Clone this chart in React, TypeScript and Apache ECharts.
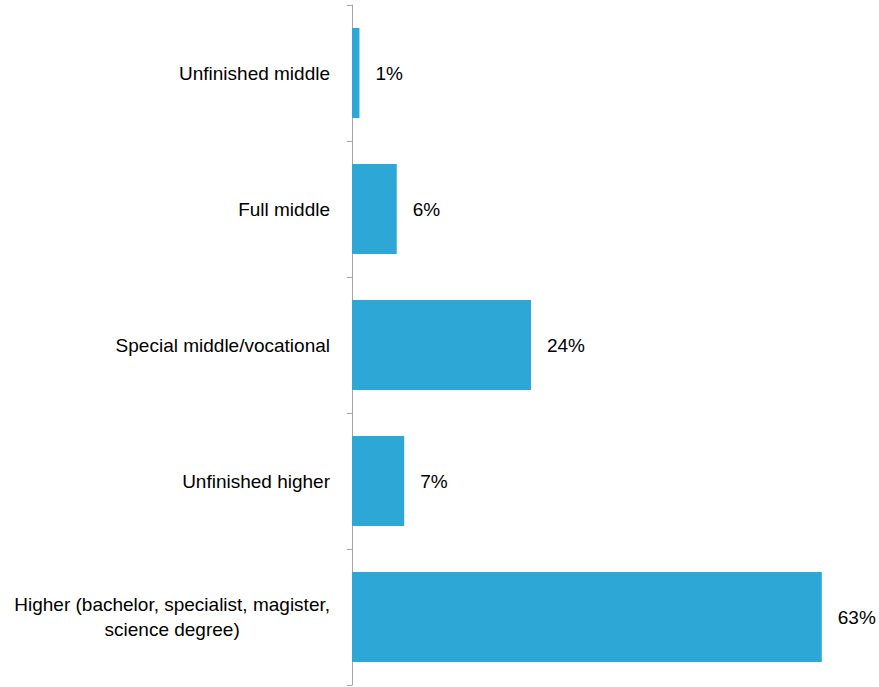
import React, { useEffect, useRef } from "react";
import * as echarts from "echarts";

const categories = [
  "Unfinished middle",
  "Full middle",
  "Special middle/vocational",
  "Unfinished higher",
  "Higher (bachelor, specialist, magister,\nscience degree)",
];
const values = [1, 6, 24, 7, 63];

const FONT = "'Liberation Sans', Arial, sans-serif";

export default function App() {
  const ref = useRef<HTMLDivElement>(null);
  useEffect(() => {
    if (!ref.current) return;
    const chart = echarts.init(ref.current, null, { renderer: "svg" });
    chart.setOption({
      animation: false,
      grid: {
        left: 352,
        right: 5,
        top: 5,
        bottom: 2,
        containLabel: false,
        outerBoundsMode: "none",
      },
      xAxis: {
        type: "value",
        min: 0,
        max: 70,
        show: false,
      },
      yAxis: {
        type: "category",
        inverse: true,
        data: categories,
        axisLine: { show: true, lineStyle: { color: "#a6a6a6", width: 1 } },
        axisTick: { show: true, length: 5, lineStyle: { color: "#a6a6a6" } },
        axisLabel: {
          margin: 22,
          color: "#000",
          fontFamily: FONT,
          fontSize: 19,
          lineHeight: 25,
          formatter: (v: string) =>
            v
              .split("\n")
              .map((s) => "{a|" + s + "}")
              .join("\n"),
          rich: {
            a: {
              align: "center",
              fontFamily: FONT,
              fontSize: 19,
              lineHeight: 25,
              color: "#000",
            },
          },
        },
        splitLine: { show: false },
      },
      series: [
        {
          type: "bar",
          data: values,
          barWidth: 90,
          itemStyle: { color: "#2ca7d6" },
          label: {
            show: true,
            position: "right",
            distance: 16,
            formatter: "{c}%",
            color: "#000",
            fontFamily: FONT,
            fontSize: 19,
          },
        },
      ],
    });
    return () => chart.dispose();
  }, []);
  return <div ref={ref} style={{ width: 879, height: 687, position: "absolute", left: 0, top: 0 }} />;
}
